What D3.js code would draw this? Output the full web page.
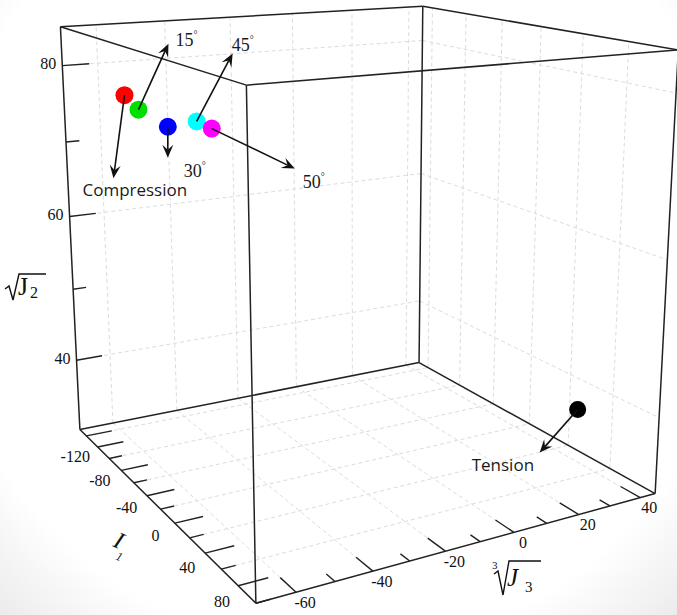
<!DOCTYPE html>
<html><head><meta charset="utf-8">
<script src="https://cdn.jsdelivr.net/npm/d3@7"></script>
<style>body{margin:0;background:#fff}svg{display:block}</style>
</head><body>
<svg id="chart" width="677" height="615"></svg>
<script>
// ---- axis domains and ticks ----
const i1Domain = [-172, 80];
const j3Domain = [-70, 45];
const j2Domain = [30, 85];

const i1Ticks  = [-160,-140,-120,-100,-80,-60,-40,-20,0,20,40,60,80];
const i1Labels = [-120,-80,-40,0,40,80];
const j3Ticks  = [-60,-50,-40,-30,-20,-10,0,10,20,30,40];
const j3Labels = [-60,-40,-20,0,20,40];
const j2Ticks  = [40,50,60,70,80];
const j2Labels = [40,60,80];

const i1Grid = [-160,-120,-80,-40,0,40];
const j3Grid = [-60,-40,-20,0,20,40];
const j2Grid = [40,60,80];

// ---- failure points (I1, cube root of J3, sqrt of J2) ----
const pointNames  = ["Compression","15","30","45","50","Tension"];
const pointI1     = [-156.5,-140.2,-99.2,-48.7,-30.2,50.4];
const pointJ3     = [-55.3,-54.3,-53.7,-55.6,-55.4,29.3];
const pointJ2     = [76.1,74.7,73.9,76.4,76.2,40.3];
const pointColors = ["#ff0000","#00e000","#0000ff","#00ffff","#ff00ff","#000000"];

// call-out layout: arrow tip and text anchor, in px relative to the point
const callouts = [
  {tip:[-11,83],  txt:[-42,101], sans:true},
  {tip:[30,-66],  txt:[37,-64]},
  {tip:[0,31],    txt:[16,50]},
  {tip:[36,-68],  txt:[35,-70]},
  {tip:[83,40],   txt:[91,59]},
  {tip:[-38,43],  txt:[-106,61], sans:true}
];

const W = 677, H = 615;
const svg = d3.select("#chart");

// faint paper shading toward the lower corners
const defs = svg.append("defs");
const rg = defs.append("radialGradient").attr("id","paper").attr("gradientUnits","userSpaceOnUse")
  .attr("cx",340).attr("cy",250).attr("r",500);
rg.append("stop").attr("offset",0).attr("stop-color","#fff");
rg.append("stop").attr("offset",0.8).attr("stop-color","#fff");
rg.append("stop").attr("offset",1).attr("stop-color","#ebebeb");
svg.append("rect").attr("width",W).attr("height",H).attr("fill","url(#paper)");

const sI1 = d3.scaleLinear().domain(i1Domain).range([0,1]);
const sJ3 = d3.scaleLinear().domain(j3Domain).range([0,1]);
const sJ2 = d3.scaleLinear().domain(j2Domain).range([0,1]);

// screen anchors of the unit-cube corners: [a, b, c, x, y]
const cubeAnchors = [
  [0,0,0, 80,428],[1,0,0,256,604],[1,1,0,655,494],[0,1,0,419,363],
  [0,0,1, 59, 27],[1,0,1,248, 86],[1,1,1,677, 48],[0,1,1,424,  7]];

// least-squares perspective camera (3x4, p34 = 1)
function fitCamera(anchors){
  const N = 11;
  const A = Array.from({length:N},()=>new Array(N).fill(0));
  const B = new Array(N).fill(0);
  const add = (row,rhs)=>{ for(let i=0;i<N;i++){ B[i]+=row[i]*rhs; for(let j=0;j<N;j++) A[i][j]+=row[i]*row[j]; } };
  anchors.forEach(([X,Y,Z,x,y])=>{
    add([X,Y,Z,1,0,0,0,0,-x*X,-x*Y,-x*Z],x);
    add([0,0,0,0,X,Y,Z,1,-y*X,-y*Y,-y*Z],y);
  });
  for(let k=0;k<N;k++){
    let piv=k; for(let i=k+1;i<N;i++) if(Math.abs(A[i][k])>Math.abs(A[piv][k])) piv=i;
    [A[k],A[piv]]=[A[piv],A[k]]; [B[k],B[piv]]=[B[piv],B[k]];
    for(let i=k+1;i<N;i++){ const f=A[i][k]/A[k][k]; for(let j=k;j<N;j++) A[i][j]-=f*A[k][j]; B[i]-=f*B[k]; }
  }
  const p=new Array(N).fill(0);
  for(let i=N-1;i>=0;i--){ let s=B[i]; for(let j=i+1;j<N;j++) s-=A[i][j]*p[j]; p[i]=s/A[i][i]; }
  return p;
}
const P = fitCamera(cubeAnchors);
function projUnit(a,b,c){
  const w=P[8]*a+P[9]*b+P[10]*c+1;
  return [(P[0]*a+P[1]*b+P[2]*c+P[3])/w,(P[4]*a+P[5]*b+P[6]*c+P[7])/w];
}
const proj = (i1,j3,j2)=>projUnit(sI1(i1),sJ3(j3),sJ2(j2));
const line = d3.line();

// dashed grid on the floor and the two back walls
const gGrid = svg.append("g").attr("fill","none").attr("stroke","#dcdcdc").attr("stroke-width",1).attr("stroke-dasharray","4,3");
const [i1a,i1b]=i1Domain,[j3a,j3b]=j3Domain,[j2a,j2b]=j2Domain;
const gridSegs=[];
i1Grid.forEach(v=>{ gridSegs.push([proj(v,j3a,j2a),proj(v,j3b,j2a)]); gridSegs.push([proj(v,j3b,j2a),proj(v,j3b,j2b)]); });
j3Grid.forEach(v=>{ gridSegs.push([proj(i1a,v,j2a),proj(i1b,v,j2a)]); gridSegs.push([proj(i1a,v,j2a),proj(i1a,v,j2b)]); });
j2Grid.forEach(v=>{ gridSegs.push([proj(i1a,j3a,v),proj(i1a,j3b,v)]); gridSegs.push([proj(i1a,j3b,v),proj(i1b,j3b,v)]); });
gGrid.selectAll("path").data(gridSegs).join("path").attr("d",line);

// box edges
const corners=[[i1a,j3a],[i1b,j3a],[i1b,j3b],[i1a,j3b]];
const edges=[];
for(let k=0;k<4;k++){
  const [p,q]=[corners[k],corners[(k+1)%4]];
  edges.push([proj(p[0],p[1],j2a),proj(q[0],q[1],j2a)]);
  edges.push([proj(p[0],p[1],j2b),proj(q[0],q[1],j2b)]);
  edges.push([proj(p[0],p[1],j2a),proj(p[0],p[1],j2b)]);
}
svg.append("g").attr("fill","none").attr("stroke","#222").attr("stroke-width",1.5)
  .selectAll("path").data(edges).join("path").attr("d",line);

// ticks
const gT = svg.append("g").attr("fill","none").attr("stroke","#222").attr("stroke-width",1.4);
const j3Span=j3b-j3a,i1Span=i1b-i1a;
i1Ticks.forEach(v=>{ const L=i1Labels.includes(v)?0.032:0.066;
  gT.append("path").attr("d",line([proj(v,j3a,j2a),proj(v,j3a+L*j3Span,j2a)])); });
j3Ticks.forEach(v=>{ const L=j3Labels.includes(v)?0.068:0.036;
  gT.append("path").attr("d",line([proj(i1b,v,j2a),proj(i1b-L*i1Span,v,j2a)])); });
j2Ticks.forEach(v=>{ const L=j2Labels.includes(v)?0.066:0.033;
  gT.append("path").attr("d",line([proj(i1a,j3a,v),proj(i1a,j3a+L*j3Span,v)])); });

// tick labels
const serif="'Liberation Serif','Times New Roman',serif";
const sans="'Open Sans','Noto Sans',sans-serif";
const gL=svg.append("g").attr("font-family",serif).attr("font-size",16).attr("fill","#111");
i1Labels.forEach(v=>{ const [x,y]=proj(v,j3a,j2a);
  gL.append("text").attr("x",x-34).attr("y",y).attr("text-anchor","middle").attr("dominant-baseline","middle").text(v); });
j3Labels.forEach(v=>{ const [x,y]=proj(i1b,v,j2a);
  gL.append("text").attr("x",x+9).attr("y",y+12).attr("text-anchor","middle").attr("dominant-baseline","middle").text(v); });
j2Labels.forEach(v=>{ const [x,y]=proj(i1a,j3a,v);
  gL.append("text").attr("x",x-6).attr("y",y).attr("text-anchor","end").attr("dominant-baseline","middle").text(v); });

// axis titles
const gA=svg.append("g").attr("font-family",serif).attr("fill","#111");
gA.append("path").attr("d","M5,289L9,286L13,300L19,274L46,274").attr("fill","none").attr("stroke","#111").attr("stroke-width",1.4);
gA.append("text").attr("x",18).attr("y",295).attr("font-size",26).text("J");
gA.append("text").attr("x",30).attr("y",298).attr("font-size",16).text("2");
gA.append("path").attr("d","M494,574L498,571L503,595L509,561L541,561").attr("fill","none").attr("stroke","#111").attr("stroke-width",1.4);
gA.append("text").attr("x",492).attr("y",569).attr("font-size",11).text("3");
gA.append("text").attr("x",507).attr("y",586).attr("font-size",25).attr("font-style","italic").text("J");
gA.append("text").attr("x",525).attr("y",592).attr("font-size",15).text("3");
gA.append("text").attr("transform","translate(112,546) rotate(24)").attr("font-size",24).attr("font-style","italic").text("I");
gA.append("text").attr("transform","translate(115,559) rotate(24)").attr("font-size",12).attr("font-style","italic").text("1");

// points
const pts=pointNames.map((n,i)=>({name:n,p:proj(pointI1[i],pointJ3[i],pointJ2[i]),c:pointColors[i],co:callouts[i]}));
svg.append("g").selectAll("circle").data(pts).join("circle")
  .attr("cx",d=>d.p[0]).attr("cy",d=>d.p[1]).attr("r",(d,i)=>i===5?8.5:9).attr("fill",d=>d.c);

// arrows and call-out text
const gC=svg.append("g");
pts.forEach(d=>{
  const [x0,y0]=d.p, x1=x0+d.co.tip[0], y1=y0+d.co.tip[1];
  const ang=Math.atan2(y1-y0,x1-x0), L=13, w=5.5, n=8;
  const ux=Math.cos(ang), uy=Math.sin(ang), vx=-uy, vy=ux;
  gC.append("path").attr("d",line([[x0,y0],[x1-ux*n,y1-uy*n]])).attr("stroke","#111").attr("stroke-width",1.6).attr("fill","none");
  gC.append("path").attr("fill","#111")
    .attr("d",line([[x1,y1],[x1-ux*L+vx*w,y1-uy*L+vy*w],[x1-ux*n,y1-uy*n],[x1-ux*L-vx*w,y1-uy*L-vy*w]])+"Z");
  const t=gC.append("text").attr("x",x0+d.co.txt[0]).attr("y",y0+d.co.txt[1]).attr("fill","#1a1a1a");
  if(d.co.sans){ t.attr("font-family",sans).attr("font-size",17).text(d.name); }
  else {
    t.attr("font-family",serif).attr("font-size",18).text(d.name);
    t.append("tspan").attr("font-size",10).attr("dy",-8).text("°");
  }
});
</script>
</body></html>
